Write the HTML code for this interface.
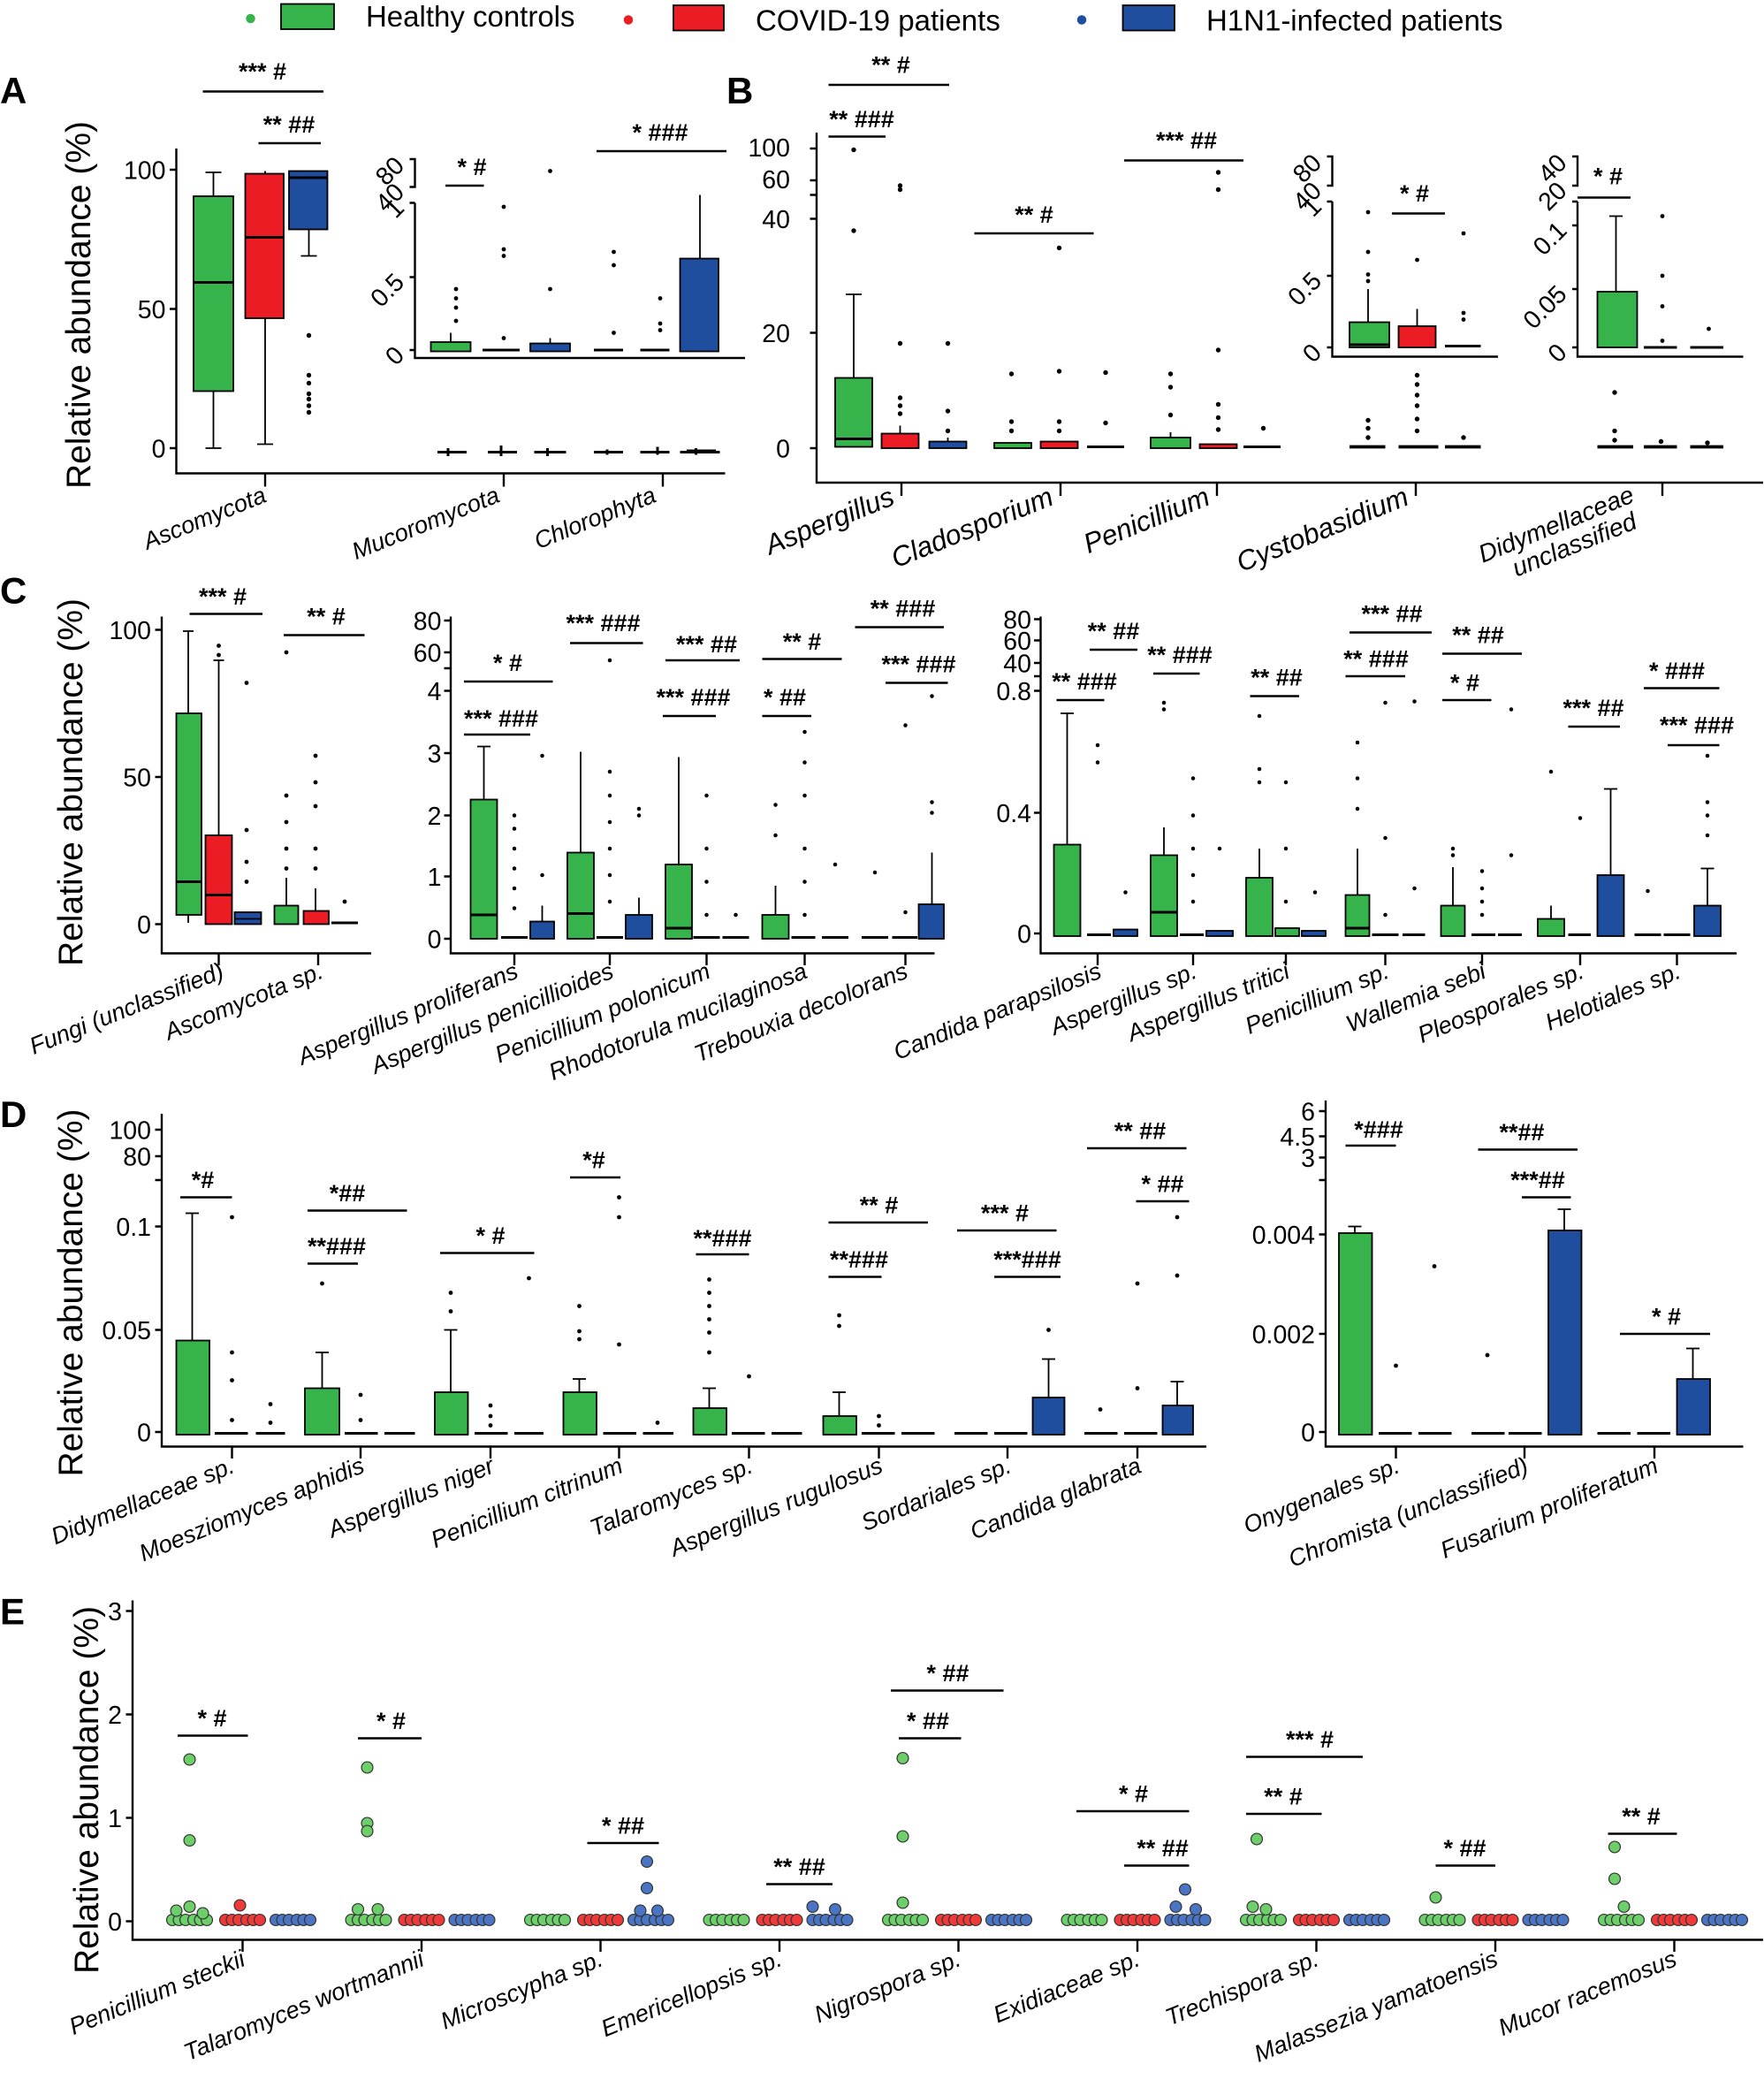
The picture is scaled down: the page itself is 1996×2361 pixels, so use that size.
<!DOCTYPE html>
<html><head><meta charset="utf-8"><style>
html,body{margin:0;padding:0;background:#fff}
svg{display:block}
text{font-family:"Liberation Sans",sans-serif;fill:#000}
.t{font-size:19px}
.s{font-size:18px;font-weight:bold}
.l{font-size:18px;font-style:italic}
.y{font-size:26px}
.P{font-size:28px;font-weight:bold}
.ax{stroke:#000;stroke-width:1.6;fill:none}
.br{stroke:#000;stroke-width:1.6}
.g{fill:#36b34a;stroke:#000;stroke-width:1.2}
.r{fill:#ec1c24;stroke:#000;stroke-width:1.2}
.b{fill:#1f4e9f;stroke:#000;stroke-width:1.2}
.w{stroke:#000;stroke-width:1.2}
.dg{fill:#6ccf6a;stroke:#333;stroke-width:.8}
.dr{fill:#f03a3a;stroke:#333;stroke-width:.8}
.db{fill:#4a74c4;stroke:#333;stroke-width:.8}
</style></head><body>
<svg width="1996" height="2361" viewBox="0 0 1330.67 1574" xmlns="http://www.w3.org/2000/svg">
<!-- legend -->
<circle cx="189" cy="14" r="3.5" fill="#36b34a"/>
<rect x="212" y="3" width="40" height="19" class="g"/>
<text x="276" y="20" style="font-size:22px">Healthy controls</text>
<circle cx="474" cy="15" r="3.5" fill="#ec1c24"/>
<rect x="508" y="4" width="38" height="19" class="r"/>
<text x="570" y="23" style="font-size:22px">COVID-19 patients</text>
<circle cx="816" cy="15" r="3.5" fill="#1f4e9f"/>
<rect x="847" y="4" width="39" height="19" class="b"/>
<text x="910" y="23" style="font-size:22px">H1N1-infected patients</text>

<!-- PANEL A -->
<text x="0" y="78" class="P">A</text>
<text class="y" transform="translate(68 230) rotate(-90)" text-anchor="middle">Relative abundance (%)</text>
<path class="ax" d="M133 112V357H547"/>
<path class="ax" d="M128 128H133M128 233H133M128 338H133"/>
<text x="125" y="135" class="t" text-anchor="end">100</text>
<text x="125" y="240" class="t" text-anchor="end">50</text>
<text x="125" y="345" class="t" text-anchor="end">0</text>
<path class="ax" d="M200 357v10M380 357v10M500 357v10"/>
<line class="w" x1="161" y1="130" x2="161" y2="338"/><line class="w" x1="155" y1="130" x2="167" y2="130"/><line class="w" x1="155" y1="338" x2="167" y2="338"/>
<rect x="146" y="148" width="30" height="147" class="g"/><line class="w" x1="146" y1="213" x2="176" y2="213" style="stroke-width:2"/>
<line class="w" x1="200" y1="129" x2="200" y2="335"/><line class="w" x1="194" y1="335" x2="206" y2="335"/>
<rect x="185" y="131" width="29" height="109" class="r"/><line class="w" x1="185" y1="179" x2="214" y2="179" style="stroke-width:2"/>
<line class="w" x1="233" y1="173" x2="233" y2="193"/><line class="w" x1="227" y1="193" x2="239" y2="193"/>
<rect x="218" y="129" width="29" height="44" class="b"/><line class="w" x1="218" y1="134" x2="247" y2="134" style="stroke-width:2"/>
<g fill="#000"><circle cx="233" cy="253" r="1.8"/><circle cx="233" cy="283" r="1.8"/><circle cx="233" cy="289" r="1.8"/><circle cx="233" cy="297" r="1.8"/><circle cx="233" cy="301" r="1.8"/><circle cx="233" cy="306" r="1.8"/><circle cx="233" cy="311" r="1.8"/></g>
<path class="w" d="M330 341H352M338 338v6M368 341H390M378 336v8M403 341H427M413 338v6M448 341H470M458 339v4M483 341H505M496 337v6M513 341H543M525 338v5M518 340H540" style="stroke-width:2"/>
<!-- inset A -->
<path class="ax" d="M313 153V270H562"/>
<path class="ax" d="M309 120H313V141H309M309 153H313M309 264H313M309 209H313"/>
<text class="t" text-anchor="end" transform="translate(306 269) rotate(-45)">0</text>
<text class="t" text-anchor="end" transform="translate(306 214) rotate(-45)">0.5</text>
<text class="t" text-anchor="end" transform="translate(306 158) rotate(-45)">1</text>
<text class="t" text-anchor="end" transform="translate(306 146) rotate(-45)">40</text>
<text class="t" text-anchor="end" transform="translate(306 126) rotate(-45)">80</text>
<line class="w" x1="340" y1="251" x2="340" y2="258"/><rect x="325" y="258" width="30" height="7" class="g"/>
<line class="w" x1="364" y1="264" x2="392" y2="264" style="stroke-width:2"/>
<line class="w" x1="415" y1="255" x2="415" y2="259"/><rect x="400" y="259" width="30" height="6" class="b"/>
<line class="w" x1="448" y1="264" x2="470" y2="264" style="stroke-width:2"/>
<line class="w" x1="483" y1="264" x2="505" y2="264" style="stroke-width:2"/>
<line class="w" x1="528" y1="147" x2="528" y2="195"/><rect x="513" y="195" width="29" height="70" class="b"/>
<g fill="#000"><circle cx="344" cy="218" r="1.6"/><circle cx="344" cy="225" r="1.6"/><circle cx="344" cy="232" r="1.6"/><circle cx="344" cy="242" r="1.6"/><circle cx="380" cy="156" r="1.6"/><circle cx="380" cy="188" r="1.6"/><circle cx="380" cy="193" r="1.6"/><circle cx="415" cy="129" r="1.6"/><circle cx="415" cy="218" r="1.6"/><circle cx="463" cy="190" r="1.6"/><circle cx="463" cy="200" r="1.6"/><circle cx="463" cy="251" r="1.6"/><circle cx="498" cy="225" r="1.6"/><circle cx="498" cy="244" r="1.6"/><circle cx="498" cy="249" r="1.6"/><circle cx="380" cy="255" r="1.6"/></g>
<text x="198" y="60" class="s" text-anchor="middle">*** #</text><line class="br" x1="153" y1="69" x2="244" y2="69"/>
<text x="218" y="100" class="s" text-anchor="middle">** ##</text><line class="br" x1="195" y1="108" x2="242" y2="108"/>
<text x="356" y="132" class="s" text-anchor="middle">* #</text><line class="br" x1="336" y1="140" x2="365" y2="140"/>
<text x="498" y="106" class="s" text-anchor="middle">* ###</text><line class="br" x1="450" y1="114" x2="548" y2="114"/>
<text class="l" text-anchor="end" transform="translate(202 378) rotate(-22)">Ascomycota</text>
<text class="l" text-anchor="end" transform="translate(378 378) rotate(-22)">Mucoromycota</text>
<text class="l" text-anchor="end" transform="translate(496 378) rotate(-22)">Chlorophyta</text>

<!-- PANEL B -->
<text x="548" y="78" class="P">B</text>
<path class="ax" d="M616 100V364H1330"/>
<path class="ax" d="M611 112H616M611 136H616M611 147H616M611 165H616M611 251H616M611 338H616"/>
<text x="596" y="118" class="t" text-anchor="end">100</text>
<text x="596" y="142" class="t" text-anchor="end">60</text>
<text x="596" y="172" class="t" text-anchor="end">40</text>
<text x="596" y="258" class="t" text-anchor="end">20</text>
<text x="596" y="345" class="t" text-anchor="end">0</text>
<path class="ax" d="M680 364v10M800 364v10M918 364v10M1068 364v10M1254 364v10"/>
<line class="w" x1="644" y1="222" x2="644" y2="285"/><line class="w" x1="638" y1="222" x2="650" y2="222"/>
<rect x="630" y="285" width="28" height="52" class="g"/><line class="w" x1="630" y1="331" x2="658" y2="331" style="stroke-width:2"/>
<line class="w" x1="679" y1="321" x2="679" y2="327"/><rect x="665" y="327" width="28" height="11" class="r"/>
<line class="w" x1="715" y1="330" x2="715" y2="333"/><rect x="701" y="333" width="28" height="5" class="b"/>
<rect x="750" y="334" width="28" height="4" class="g"/><rect x="785" y="333" width="28" height="5" class="r"/><line class="w" x1="820" y1="337" x2="848" y2="337" style="stroke-width:2"/>
<line class="w" x1="883" y1="326" x2="883" y2="330"/><rect x="868" y="330" width="30" height="8" class="g"/><rect x="905" y="335" width="28" height="3" class="r"/><line class="w" x1="938" y1="337" x2="966" y2="337" style="stroke-width:2"/>
<path class="w" d="M1018 337H1045M1055 337H1085M1090 337H1117M1205 337H1232M1240 337H1265M1275 337H1300" style="stroke-width:2.5"/>
<g fill="#000"><circle cx="644" cy="113" r="1.8"/><circle cx="644" cy="174" r="1.8"/><circle cx="679" cy="140" r="1.8"/><circle cx="679" cy="143" r="1.8"/><circle cx="679" cy="259" r="1.8"/><circle cx="679" cy="300" r="1.8"/><circle cx="679" cy="306" r="1.8"/><circle cx="679" cy="312" r="1.8"/><circle cx="715" cy="259" r="1.8"/><circle cx="715" cy="310" r="1.8"/><circle cx="715" cy="325" r="1.8"/><circle cx="763" cy="282" r="1.8"/><circle cx="763" cy="318" r="1.8"/><circle cx="763" cy="325" r="1.8"/><circle cx="799" cy="187" r="1.8"/><circle cx="799" cy="280" r="1.8"/><circle cx="799" cy="318" r="1.8"/><circle cx="799" cy="325" r="1.8"/><circle cx="834" cy="281" r="1.8"/><circle cx="834" cy="319" r="1.8"/><circle cx="883" cy="282" r="1.8"/><circle cx="883" cy="292" r="1.8"/><circle cx="883" cy="313" r="1.8"/><circle cx="919" cy="130" r="1.8"/><circle cx="919" cy="143" r="1.8"/><circle cx="919" cy="264" r="1.8"/><circle cx="919" cy="305" r="1.8"/><circle cx="919" cy="315" r="1.8"/><circle cx="919" cy="324" r="1.8"/><circle cx="953" cy="323" r="1.8"/><circle cx="1032" cy="317" r="1.8"/><circle cx="1032" cy="323" r="1.8"/><circle cx="1032" cy="330" r="1.8"/><circle cx="1069" cy="283" r="1.8"/><circle cx="1069" cy="290" r="1.8"/><circle cx="1069" cy="298" r="1.8"/><circle cx="1069" cy="306" r="1.8"/><circle cx="1069" cy="316" r="1.8"/><circle cx="1069" cy="325" r="1.8"/><circle cx="1104" cy="330" r="1.8"/><circle cx="1218" cy="296" r="1.8"/><circle cx="1218" cy="325" r="1.8"/><circle cx="1218" cy="332" r="1.8"/><circle cx="1253" cy="333" r="1.8"/><circle cx="1288" cy="334" r="1.8"/></g>
<!-- inset Cystobasidium -->
<path class="ax" d="M1005 152V269H1130"/>
<path class="ax" d="M1001 118H1005V140H1001M1001 152H1005M1001 262H1005M1001 208H1005"/>
<text class="t" text-anchor="end" transform="translate(998 267) rotate(-45)">0</text>
<text class="t" text-anchor="end" transform="translate(998 213) rotate(-45)">0.5</text>
<text class="t" text-anchor="end" transform="translate(998 157) rotate(-45)">1</text>
<text class="t" text-anchor="end" transform="translate(998 145) rotate(-45)">40</text>
<text class="t" text-anchor="end" transform="translate(998 124) rotate(-45)">80</text>
<line class="w" x1="1032" y1="218" x2="1032" y2="243"/><rect x="1018" y="243" width="30" height="19" class="g"/><line class="w" x1="1018" y1="260" x2="1048" y2="260" style="stroke-width:2"/>
<line class="w" x1="1069" y1="233" x2="1069" y2="246"/><rect x="1055" y="246" width="28" height="16" class="r"/>
<line class="w" x1="1090" y1="261" x2="1117" y2="261" style="stroke-width:2"/>
<g fill="#000"><circle cx="1032" cy="160" r="1.6"/><circle cx="1032" cy="190" r="1.6"/><circle cx="1032" cy="207" r="1.6"/><circle cx="1032" cy="212" r="1.6"/><circle cx="1069" cy="196" r="1.6"/><circle cx="1104" cy="176" r="1.6"/><circle cx="1104" cy="236" r="1.6"/><circle cx="1104" cy="241" r="1.6"/></g>
<!-- inset Didymellaceae -->
<path class="ax" d="M1190 152V269H1315"/>
<path class="ax" d="M1186 118H1190V140H1186M1186 152H1190M1186 262H1190M1186 218H1190M1186 170H1190"/>
<text class="t" text-anchor="end" transform="translate(1183 267) rotate(-45)">0</text>
<text class="t" text-anchor="end" transform="translate(1183 223) rotate(-45)">0.05</text>
<text class="t" text-anchor="end" transform="translate(1183 175) rotate(-45)">0.1</text>
<text class="t" text-anchor="end" transform="translate(1183 145) rotate(-45)">20</text>
<text class="t" text-anchor="end" transform="translate(1183 124) rotate(-45)">40</text>
<line class="w" x1="1219" y1="163" x2="1219" y2="220"/><line class="w" x1="1214" y1="163" x2="1224" y2="163"/><rect x="1205" y="220" width="30" height="42" class="g"/>
<line class="w" x1="1240" y1="262" x2="1265" y2="262" style="stroke-width:2"/><line class="w" x1="1275" y1="262" x2="1300" y2="262" style="stroke-width:2"/>
<g fill="#000"><circle cx="1254" cy="163" r="1.6"/><circle cx="1254" cy="208" r="1.6"/><circle cx="1254" cy="231" r="1.6"/><circle cx="1254" cy="257" r="1.6"/><circle cx="1289" cy="248" r="1.6"/></g>
<text x="672" y="55" class="s" text-anchor="middle">** #</text><line class="br" x1="625" y1="64" x2="716" y2="64"/>
<text x="650" y="96" class="s" text-anchor="middle">** ###</text><line class="br" x1="625" y1="103" x2="668" y2="103"/>
<text x="780" y="168" class="s" text-anchor="middle">** #</text><line class="br" x1="735" y1="176" x2="825" y2="176"/>
<text x="895" y="112" class="s" text-anchor="middle">*** ##</text><line class="br" x1="848" y1="121" x2="938" y2="121"/>
<text x="1067" y="152" class="s" text-anchor="middle">* #</text><line class="br" x1="1050" y1="161" x2="1090" y2="161"/>
<text x="1213" y="139" class="s" text-anchor="middle">* #</text><line class="br" x1="1190" y1="149" x2="1230" y2="149"/>
<text class="l" text-anchor="end" transform="translate(676 380) rotate(-22)" style="font-size:21px">Aspergillus</text>
<text class="l" text-anchor="end" transform="translate(796 380) rotate(-22)" style="font-size:21px">Cladosporium</text>
<text class="l" text-anchor="end" transform="translate(914 380) rotate(-22)" style="font-size:21px">Penicillium</text>
<text class="l" text-anchor="end" transform="translate(1064 380) rotate(-22)" style="font-size:21px">Cystobasidium</text>
<text class="l" text-anchor="end" transform="translate(1234 378) rotate(-22)" style="font-size:19px">Didymellaceae</text>
<text class="l" text-anchor="end" transform="translate(1236 398) rotate(-22)" style="font-size:19px">unclassified</text>

<!-- PANEL C -->
<text x="0" y="455" class="P">C</text>
<text class="y" transform="translate(62 590) rotate(-90)" text-anchor="middle">Relative abundance (%)</text>
<path class="ax" d="M122 465V719H280"/>
<path class="ax" d="M117 475H122M117 586H122M117 697H122"/>
<text x="114" y="482" class="t" text-anchor="end">100</text>
<text x="114" y="593" class="t" text-anchor="end">50</text>
<text x="114" y="704" class="t" text-anchor="end">0</text>
<path class="ax" d="M165 719v9M240 719v9"/>
<line class="w" x1="142" y1="476" x2="142" y2="696"/><line class="w" x1="138" y1="476" x2="146" y2="476"/>
<rect x="133" y="538" width="19" height="152" class="g"/><line class="w" x1="133" y1="665" x2="152" y2="665" style="stroke-width:2"/>
<line class="w" x1="165" y1="498" x2="165" y2="630"/><line class="w" x1="161" y1="498" x2="169" y2="498"/>
<rect x="155" y="630" width="20" height="67" class="r"/><line class="w" x1="155" y1="675" x2="175" y2="675" style="stroke-width:2"/>
<rect x="177" y="688" width="20" height="9" class="b"/><line class="w" x1="177" y1="693" x2="197" y2="693"/>
<line class="w" x1="216" y1="662" x2="216" y2="683"/><rect x="207" y="683" width="18" height="14" class="g"/>
<line class="w" x1="238" y1="670" x2="238" y2="687"/><rect x="229" y="687" width="19" height="10" class="r"/>
<line class="w" x1="250" y1="696" x2="270" y2="696" style="stroke-width:2"/>
<g fill="#000"><circle cx="165" cy="487" r="1.6"/><circle cx="165" cy="494" r="1.6"/><circle cx="186" cy="515" r="1.6"/><circle cx="186" cy="626" r="1.6"/><circle cx="186" cy="650" r="1.6"/><circle cx="186" cy="665" r="1.6"/><circle cx="216" cy="492" r="1.6"/><circle cx="216" cy="600" r="1.6"/><circle cx="216" cy="620" r="1.6"/><circle cx="216" cy="640" r="1.6"/><circle cx="216" cy="655" r="1.6"/><circle cx="238" cy="570" r="1.6"/><circle cx="238" cy="590" r="1.6"/><circle cx="238" cy="608" r="1.6"/><circle cx="238" cy="640" r="1.6"/><circle cx="238" cy="655" r="1.6"/><circle cx="260" cy="680" r="1.6"/></g>
<text x="168" y="456" class="s" text-anchor="middle">*** #</text><line class="br" x1="143" y1="463" x2="198" y2="463"/>
<text x="246" y="471" class="s" text-anchor="middle">** #</text><line class="br" x1="214" y1="479" x2="275" y2="479"/>
<path class="ax" d="M340 465V719H705"/>
<path class="ax" d="M335 468H340M335 492H340M335 504H340M335 521H340M335 568H340M335 615H340M335 661H340M335 708H340"/>
<text x="333" y="475" class="t" text-anchor="end">80</text>
<text x="333" y="499" class="t" text-anchor="end">60</text>
<text x="333" y="528" class="t" text-anchor="end">4</text>
<text x="333" y="575" class="t" text-anchor="end">3</text>
<text x="333" y="622" class="t" text-anchor="end">2</text>
<text x="333" y="668" class="t" text-anchor="end">1</text>
<text x="333" y="715" class="t" text-anchor="end">0</text>
<path class="ax" d="M388 719v9M460 719v9M533 719v9M607 719v9M683 719v9"/>
<line class="w" x1="365" y1="563" x2="365" y2="603"/><line class="w" x1="360" y1="563" x2="370" y2="563"/>
<rect x="355" y="603" width="20" height="105" class="g"/><line class="w" x1="355" y1="690" x2="375" y2="690" style="stroke-width:2"/>
<line class="w" x1="378" y1="707" x2="398" y2="707" style="stroke-width:2"/>
<line class="w" x1="409" y1="683" x2="409" y2="695"/><rect x="400" y="695" width="18" height="13" class="b"/>
<line class="w" x1="438" y1="567" x2="438" y2="643"/><rect x="428" y="643" width="20" height="65" class="g"/><line class="w" x1="428" y1="689" x2="448" y2="689" style="stroke-width:2"/>
<line class="w" x1="450" y1="707" x2="470" y2="707" style="stroke-width:2"/>
<line class="w" x1="482" y1="677" x2="482" y2="690"/><rect x="472" y="690" width="20" height="18" class="b"/>
<line class="w" x1="512" y1="571" x2="512" y2="652"/><rect x="502" y="652" width="20" height="56" class="g"/><line class="w" x1="502" y1="700" x2="522" y2="700" style="stroke-width:2"/>
<line class="w" x1="523" y1="707" x2="543" y2="707" style="stroke-width:2"/><line class="w" x1="545" y1="707" x2="565" y2="707" style="stroke-width:2"/>
<line class="w" x1="585" y1="668" x2="585" y2="690"/><rect x="575" y="690" width="20" height="18" class="g"/>
<line class="w" x1="597" y1="707" x2="615" y2="707" style="stroke-width:2"/><line class="w" x1="620" y1="707" x2="640" y2="707" style="stroke-width:2"/>
<line class="w" x1="650" y1="707" x2="670" y2="707" style="stroke-width:2"/><line class="w" x1="673" y1="707" x2="692" y2="707" style="stroke-width:2"/>
<line class="w" x1="703" y1="643" x2="703" y2="682"/><rect x="693" y="682" width="19" height="26" class="b"/>
<g fill="#000"><circle cx="388" cy="615" r="1.5"/><circle cx="388" cy="625" r="1.5"/><circle cx="388" cy="640" r="1.5"/><circle cx="388" cy="655" r="1.5"/><circle cx="388" cy="670" r="1.5"/><circle cx="388" cy="685" r="1.5"/><circle cx="409" cy="570" r="1.5"/><circle cx="409" cy="660" r="1.5"/><circle cx="460" cy="498" r="1.5"/><circle cx="460" cy="582" r="1.5"/><circle cx="460" cy="600" r="1.5"/><circle cx="460" cy="620" r="1.5"/><circle cx="460" cy="640" r="1.5"/><circle cx="460" cy="660" r="1.5"/><circle cx="460" cy="680" r="1.5"/><circle cx="482" cy="610" r="1.5"/><circle cx="482" cy="615" r="1.5"/><circle cx="533" cy="600" r="1.5"/><circle cx="533" cy="640" r="1.5"/><circle cx="533" cy="665" r="1.5"/><circle cx="533" cy="690" r="1.5"/><circle cx="555" cy="690" r="1.5"/><circle cx="585" cy="607" r="1.5"/><circle cx="585" cy="630" r="1.5"/><circle cx="607" cy="552" r="1.5"/><circle cx="607" cy="575" r="1.5"/><circle cx="607" cy="600" r="1.5"/><circle cx="607" cy="640" r="1.5"/><circle cx="607" cy="665" r="1.5"/><circle cx="607" cy="690" r="1.5"/><circle cx="630" cy="652" r="1.5"/><circle cx="660" cy="658" r="1.5"/><circle cx="683" cy="547" r="1.5"/><circle cx="683" cy="688" r="1.5"/><circle cx="703" cy="525" r="1.5"/><circle cx="703" cy="605" r="1.5"/><circle cx="703" cy="613" r="1.5"/></g>
<text x="383" y="506" class="s" text-anchor="middle">* #</text><line class="br" x1="350" y1="514" x2="417" y2="514"/>
<text x="378" y="548" class="s" text-anchor="middle">*** ###</text><line class="br" x1="350" y1="554" x2="400" y2="554"/>
<text x="455" y="476" class="s" text-anchor="middle">*** ###</text><line class="br" x1="430" y1="485" x2="485" y2="485"/>
<text x="533" y="492" class="s" text-anchor="middle">*** ##</text><line class="br" x1="502" y1="498" x2="558" y2="498"/>
<text x="523" y="532" class="s" text-anchor="middle">*** ###</text><line class="br" x1="500" y1="540" x2="540" y2="540"/>
<text x="605" y="490" class="s" text-anchor="middle">** #</text><line class="br" x1="575" y1="497" x2="635" y2="497"/>
<text x="592" y="532" class="s" text-anchor="middle">* ##</text><line class="br" x1="575" y1="540" x2="612" y2="540"/>
<text x="681" y="465" class="s" text-anchor="middle">** ###</text><line class="br" x1="645" y1="473" x2="712" y2="473"/>
<text x="693" y="507" class="s" text-anchor="middle">*** ###</text><line class="br" x1="668" y1="515" x2="715" y2="515"/>
<path class="ax" d="M785 465V719H1310"/>
<path class="ax" d="M780 467H785M780 483H785M780 500H785M780 510H785M780 521H785M780 613H785M780 704H785"/>
<text x="778" y="474" class="t" text-anchor="end">80</text>
<text x="778" y="490" class="t" text-anchor="end">60</text>
<text x="778" y="507" class="t" text-anchor="end">40</text>
<text x="778" y="528" class="t" text-anchor="end">0.8</text>
<text x="778" y="620" class="t" text-anchor="end">0.4</text>
<text x="778" y="711" class="t" text-anchor="end">0</text>
<path class="ax" d="M828 719v9M900 719v9M970 719v9M1045 719v9M1118 719v9M1192 719v9M1265 719v9"/>
<line class="w" x1="805" y1="538" x2="805" y2="637"/><line class="w" x1="800" y1="538" x2="810" y2="538"/><rect x="795" y="637" width="20" height="69" class="g"/>
<line class="w" x1="820" y1="705" x2="838" y2="705" style="stroke-width:2"/><rect x="840" y="701" width="18" height="5" class="b"/>
<line class="w" x1="878" y1="624" x2="878" y2="645"/><rect x="868" y="645" width="20" height="61" class="g"/><line class="w" x1="868" y1="688" x2="888" y2="688" style="stroke-width:2"/>
<line class="w" x1="890" y1="705" x2="908" y2="705" style="stroke-width:2"/><rect x="910" y="702" width="20" height="4" class="b"/>
<line class="w" x1="950" y1="640" x2="950" y2="662"/><rect x="940" y="662" width="20" height="44" class="g"/>
<rect x="962" y="700" width="18" height="6" class="g"/><rect x="982" y="702" width="18" height="4" class="b"/>
<line class="w" x1="1024" y1="640" x2="1024" y2="675"/><rect x="1015" y="675" width="18" height="31" class="g"/><line class="w" x1="1015" y1="700" x2="1033" y2="700" style="stroke-width:2"/>
<line class="w" x1="1035" y1="705" x2="1055" y2="705" style="stroke-width:2"/><line class="w" x1="1058" y1="705" x2="1075" y2="705" style="stroke-width:2"/>
<line class="w" x1="1096" y1="654" x2="1096" y2="683"/><rect x="1087" y="683" width="18" height="23" class="g"/>
<line class="w" x1="1110" y1="705" x2="1128" y2="705" style="stroke-width:2"/><line class="w" x1="1130" y1="705" x2="1148" y2="705" style="stroke-width:2"/>
<line class="w" x1="1170" y1="683" x2="1170" y2="693"/><rect x="1160" y="693" width="20" height="13" class="g"/>
<line class="w" x1="1183" y1="705" x2="1200" y2="705" style="stroke-width:2"/>
<line class="w" x1="1215" y1="595" x2="1215" y2="660"/><line class="w" x1="1210" y1="595" x2="1220" y2="595"/><rect x="1205" y="660" width="20" height="46" class="b"/>
<line class="w" x1="1233" y1="705" x2="1253" y2="705" style="stroke-width:2"/><line class="w" x1="1255" y1="705" x2="1275" y2="705" style="stroke-width:2"/>
<line class="w" x1="1288" y1="655" x2="1288" y2="683"/><line class="w" x1="1283" y1="655" x2="1293" y2="655"/><rect x="1278" y="683" width="20" height="23" class="b"/>
<g fill="#000"><circle cx="828" cy="562" r="1.5"/><circle cx="828" cy="575" r="1.5"/><circle cx="849" cy="673" r="1.5"/><circle cx="878" cy="530" r="1.5"/><circle cx="878" cy="535" r="1.5"/><circle cx="900" cy="587" r="1.5"/><circle cx="900" cy="615" r="1.5"/><circle cx="900" cy="640" r="1.5"/><circle cx="900" cy="660" r="1.5"/><circle cx="900" cy="680" r="1.5"/><circle cx="920" cy="640" r="1.5"/><circle cx="950" cy="540" r="1.5"/><circle cx="950" cy="580" r="1.5"/><circle cx="950" cy="590" r="1.5"/><circle cx="970" cy="590" r="1.5"/><circle cx="970" cy="640" r="1.5"/><circle cx="970" cy="680" r="1.5"/><circle cx="992" cy="673" r="1.5"/><circle cx="1024" cy="560" r="1.5"/><circle cx="1024" cy="587" r="1.5"/><circle cx="1024" cy="610" r="1.5"/><circle cx="1045" cy="530" r="1.5"/><circle cx="1045" cy="632" r="1.5"/><circle cx="1045" cy="690" r="1.5"/><circle cx="1067" cy="529" r="1.5"/><circle cx="1067" cy="670" r="1.5"/><circle cx="1096" cy="640" r="1.5"/><circle cx="1096" cy="645" r="1.5"/><circle cx="1118" cy="657" r="1.5"/><circle cx="1118" cy="670" r="1.5"/><circle cx="1118" cy="680" r="1.5"/><circle cx="1118" cy="690" r="1.5"/><circle cx="1140" cy="535" r="1.5"/><circle cx="1140" cy="645" r="1.5"/><circle cx="1170" cy="582" r="1.5"/><circle cx="1192" cy="617" r="1.5"/><circle cx="1243" cy="672" r="1.5"/><circle cx="1288" cy="570" r="1.5"/><circle cx="1288" cy="605" r="1.5"/><circle cx="1288" cy="615" r="1.5"/><circle cx="1288" cy="630" r="1.5"/></g>
<text x="818" y="520" class="s" text-anchor="middle">** ###</text><line class="br" x1="797" y1="528" x2="833" y2="528"/>
<text x="840" y="482" class="s" text-anchor="middle">** ##</text><line class="br" x1="822" y1="490" x2="858" y2="490"/>
<text x="890" y="500" class="s" text-anchor="middle">** ###</text><line class="br" x1="870" y1="508" x2="905" y2="508"/>
<text x="963" y="517" class="s" text-anchor="middle">** ##</text><line class="br" x1="943" y1="525" x2="980" y2="525"/>
<text x="1050" y="469" class="s" text-anchor="middle">*** ##</text><line class="br" x1="1018" y1="477" x2="1080" y2="477"/>
<text x="1038" y="503" class="s" text-anchor="middle">** ###</text><line class="br" x1="1015" y1="510" x2="1060" y2="510"/>
<text x="1115" y="485" class="s" text-anchor="middle">** ##</text><line class="br" x1="1088" y1="493" x2="1148" y2="493"/>
<text x="1105" y="521" class="s" text-anchor="middle">* #</text><line class="br" x1="1088" y1="528" x2="1125" y2="528"/>
<text x="1202" y="540" class="s" text-anchor="middle">*** ##</text><line class="br" x1="1183" y1="548" x2="1222" y2="548"/>
<text x="1265" y="512" class="s" text-anchor="middle">* ###</text><line class="br" x1="1240" y1="519" x2="1297" y2="519"/>
<text x="1280" y="553" class="s" text-anchor="middle">*** ###</text><line class="br" x1="1258" y1="562" x2="1297" y2="562"/>
<text class="l" text-anchor="end" transform="translate(170 737) rotate(-22)">Fungi (unclassified)</text>
<text class="l" text-anchor="end" transform="translate(245 737) rotate(-22)">Ascomycota sp.</text>
<text class="l" text-anchor="end" transform="translate(392 737) rotate(-22)">Aspergillus proliferans</text>
<text class="l" text-anchor="end" transform="translate(464 737) rotate(-22)">Aspergillus penicillioides</text>
<text class="l" text-anchor="end" transform="translate(537 737) rotate(-22)">Penicillium polonicum</text>
<text class="l" text-anchor="end" transform="translate(610 737) rotate(-22)">Rhodotorula mucilaginosa</text>
<text class="l" text-anchor="end" transform="translate(686 737) rotate(-22)">Trebouxia decolorans</text>
<text class="l" text-anchor="end" transform="translate(832 737) rotate(-22)">Candida parapsilosis</text>
<text class="l" text-anchor="end" transform="translate(904 737) rotate(-22)">Aspergillus sp.</text>
<text class="l" text-anchor="end" transform="translate(974 737) rotate(-22)">Aspergillus tritici</text>
<text class="l" text-anchor="end" transform="translate(1049 737) rotate(-22)">Penicillium sp.</text>
<text class="l" text-anchor="end" transform="translate(1122 737) rotate(-22)">Wallemia sebi</text>
<text class="l" text-anchor="end" transform="translate(1196 737) rotate(-22)">Pleosporales sp.</text>
<text class="l" text-anchor="end" transform="translate(1269 737) rotate(-22)">Helotiales sp.</text>

<!-- PANEL D -->
<text x="0" y="850" class="P">D</text>
<text class="y" transform="translate(62 975) rotate(-90)" text-anchor="middle">Relative abundance (%)</text>
<path class="ax" d="M122 840V1091H910"/>
<path class="ax" d="M117 852H122M117 872H122M117 890H122M117 925H122M117 1003H122M117 1080H122"/>
<text x="114" y="859" class="t" text-anchor="end">100</text>
<text x="114" y="879" class="t" text-anchor="end">80</text>
<text x="114" y="932" class="t" text-anchor="end">0.1</text>
<text x="114" y="1010" class="t" text-anchor="end">0.05</text>
<text x="114" y="1087" class="t" text-anchor="end">0</text>
<path class="ax" d="M175 1091v9M272 1091v9M370 1091v9M467 1091v9M565 1091v9M663 1091v9M760 1091v9M858 1091v9"/>
<rect x="133" y="1011" width="25" height="71" class="g"/><line class="w" x1="145" y1="915" x2="145" y2="1011"/><line class="w" x1="140" y1="915" x2="150" y2="915"/>
<rect x="230" y="1047" width="26" height="35" class="g"/><line class="w" x1="243" y1="1020" x2="243" y2="1047"/><line class="w" x1="238" y1="1020" x2="248" y2="1020"/>
<rect x="328" y="1050" width="25" height="32" class="g"/><line class="w" x1="340" y1="1003" x2="340" y2="1050"/><line class="w" x1="335" y1="1003" x2="345" y2="1003"/>
<rect x="425" y="1050" width="25" height="32" class="g"/><line class="w" x1="437" y1="1040" x2="437" y2="1050"/><line class="w" x1="432" y1="1040" x2="442" y2="1040"/>
<rect x="523" y="1062" width="25" height="20" class="g"/><line class="w" x1="535" y1="1047" x2="535" y2="1062"/><line class="w" x1="530" y1="1047" x2="540" y2="1047"/>
<rect x="621" y="1068" width="25" height="14" class="g"/><line class="w" x1="633" y1="1050" x2="633" y2="1068"/><line class="w" x1="628" y1="1050" x2="638" y2="1050"/>
<rect x="779" y="1054" width="24" height="28" class="b"/><line class="w" x1="791" y1="1025" x2="791" y2="1054"/><line class="w" x1="786" y1="1025" x2="796" y2="1025"/>
<rect x="877" y="1060" width="23" height="22" class="b"/><line class="w" x1="888" y1="1042" x2="888" y2="1060"/><line class="w" x1="883" y1="1042" x2="893" y2="1042"/>
<path class="w" d="M162 1081H187M193 1081H215M260 1081H285M290 1081H313M358 1081H383M388 1081H410M455 1081H480M485 1081H508M552 1081H577M582 1081H605M650 1081H675M680 1081H705M720 1081H745M750 1081H775M818 1081H843M848 1081H873" style="stroke-width:2"/>
<g fill="#000"><circle cx="175" cy="918" r="1.6"/><circle cx="175" cy="1020" r="1.6"/><circle cx="175" cy="1041" r="1.6"/><circle cx="175" cy="1071" r="1.6"/><circle cx="204" cy="1059" r="1.6"/><circle cx="204" cy="1073" r="1.6"/><circle cx="243" cy="968" r="1.6"/><circle cx="272" cy="1052" r="1.6"/><circle cx="272" cy="1071" r="1.6"/><circle cx="340" cy="975" r="1.6"/><circle cx="340" cy="989" r="1.6"/><circle cx="370" cy="1060" r="1.6"/><circle cx="370" cy="1068" r="1.6"/><circle cx="370" cy="1075" r="1.6"/><circle cx="399" cy="964" r="1.6"/><circle cx="437" cy="985" r="1.6"/><circle cx="437" cy="1004" r="1.6"/><circle cx="437" cy="1010" r="1.6"/><circle cx="467" cy="903" r="1.6"/><circle cx="467" cy="918" r="1.6"/><circle cx="467" cy="1014" r="1.6"/><circle cx="496" cy="1073" r="1.6"/><circle cx="535" cy="965" r="1.6"/><circle cx="535" cy="975" r="1.6"/><circle cx="535" cy="985" r="1.6"/><circle cx="535" cy="995" r="1.6"/><circle cx="535" cy="1005" r="1.6"/><circle cx="535" cy="1020" r="1.6"/><circle cx="565" cy="1038" r="1.6"/><circle cx="633" cy="992" r="1.6"/><circle cx="633" cy="1000" r="1.6"/><circle cx="663" cy="1068" r="1.6"/><circle cx="663" cy="1075" r="1.6"/><circle cx="791" cy="1003" r="1.6"/><circle cx="830" cy="1063" r="1.6"/><circle cx="858" cy="968" r="1.6"/><circle cx="858" cy="1047" r="1.6"/><circle cx="888" cy="918" r="1.6"/><circle cx="888" cy="962" r="1.6"/></g>
<text x="153" y="896" class="s" text-anchor="middle">*#</text><line class="br" x1="136" y1="903" x2="175" y2="903"/>
<text x="262" y="906" class="s" text-anchor="middle">*##</text><line class="br" x1="232" y1="913" x2="307" y2="913"/>
<text x="254" y="946" class="s" text-anchor="middle">**###</text><line class="br" x1="232" y1="953" x2="270" y2="953"/>
<text x="370" y="938" class="s" text-anchor="middle">* #</text><line class="br" x1="332" y1="945" x2="403" y2="945"/>
<text x="448" y="881" class="s" text-anchor="middle">*#</text><line class="br" x1="430" y1="888" x2="468" y2="888"/>
<text x="545" y="940" class="s" text-anchor="middle">**###</text><line class="br" x1="525" y1="946" x2="565" y2="946"/>
<text x="663" y="915" class="s" text-anchor="middle">** #</text><line class="br" x1="625" y1="922" x2="700" y2="922"/>
<text x="648" y="956" class="s" text-anchor="middle">**###</text><line class="br" x1="625" y1="963" x2="665" y2="963"/>
<text x="758" y="921" class="s" text-anchor="middle">*** #</text><line class="br" x1="722" y1="928" x2="797" y2="928"/>
<text x="775" y="956" class="s" text-anchor="middle">***###</text><line class="br" x1="750" y1="963" x2="800" y2="963"/>
<text x="860" y="859" class="s" text-anchor="middle">** ##</text><line class="br" x1="820" y1="866" x2="895" y2="866"/>
<text x="877" y="899" class="s" text-anchor="middle">* ##</text><line class="br" x1="857" y1="906" x2="897" y2="906"/>
<path class="ax" d="M1000 830V1091H1315"/>
<path class="ax" d="M995 838H1000M995 857H1000M995 873H1000M995 890H1000M995 931H1000M995 1006H1000M995 1080H1000"/>
<text x="992" y="845" class="t" text-anchor="end">6</text>
<text x="992" y="864" class="t" text-anchor="end">4.5</text>
<text x="992" y="880" class="t" text-anchor="end">3</text>
<text x="992" y="938" class="t" text-anchor="end">0.004</text>
<text x="992" y="1013" class="t" text-anchor="end">0.002</text>
<text x="992" y="1087" class="t" text-anchor="end">0</text>
<path class="ax" d="M1053 1091v9M1150 1091v9M1248 1091v9"/>
<rect x="1010" y="930" width="25" height="152" class="g"/><line class="w" x1="1022" y1="925" x2="1022" y2="930"/><line class="w" x1="1017" y1="925" x2="1027" y2="925"/>
<rect x="1168" y="928" width="25" height="154" class="b"/><line class="w" x1="1180" y1="912" x2="1180" y2="928"/><line class="w" x1="1175" y1="912" x2="1185" y2="912"/>
<rect x="1265" y="1040" width="25" height="42" class="b"/><line class="w" x1="1277" y1="1017" x2="1277" y2="1040"/><line class="w" x1="1272" y1="1017" x2="1282" y2="1017"/>
<path class="w" d="M1040 1081H1065M1070 1081H1095M1110 1081H1135M1138 1081H1163M1205 1081H1230M1235 1081H1260" style="stroke-width:2"/>
<g fill="#000"><circle cx="1053" cy="1030" r="1.6"/><circle cx="1082" cy="955" r="1.6"/><circle cx="1122" cy="1022" r="1.6"/></g>
<text x="1040" y="858" class="s" text-anchor="middle">*###</text><line class="br" x1="1015" y1="864" x2="1053" y2="864"/>
<text x="1148" y="860" class="s" text-anchor="middle">**##</text><line class="br" x1="1115" y1="867" x2="1190" y2="867"/>
<text x="1160" y="896" class="s" text-anchor="middle">***##</text><line class="br" x1="1148" y1="903" x2="1185" y2="903"/>
<text x="1257" y="999" class="s" text-anchor="middle">* #</text><line class="br" x1="1222" y1="1006" x2="1290" y2="1006"/>
<text class="l" text-anchor="end" transform="translate(178 1110) rotate(-22)">Didymellaceae sp.</text>
<text class="l" text-anchor="end" transform="translate(276 1110) rotate(-22)">Moesziomyces aphidis</text>
<text class="l" text-anchor="end" transform="translate(374 1110) rotate(-22)">Aspergillus niger</text>
<text class="l" text-anchor="end" transform="translate(471 1110) rotate(-22)">Penicillium citrinum</text>
<text class="l" text-anchor="end" transform="translate(569 1110) rotate(-22)">Talaromyces sp.</text>
<text class="l" text-anchor="end" transform="translate(667 1110) rotate(-22)">Aspergillus rugulosus</text>
<text class="l" text-anchor="end" transform="translate(764 1110) rotate(-22)">Sordariales sp.</text>
<text class="l" text-anchor="end" transform="translate(862 1110) rotate(-22)">Candida glabrata</text>
<text class="l" text-anchor="end" transform="translate(1057 1110) rotate(-22)">Onygenales sp.</text>
<text class="l" text-anchor="end" transform="translate(1154 1110) rotate(-22)">Chromista (unclassified)</text>
<text class="l" text-anchor="end" transform="translate(1252 1110) rotate(-22)">Fusarium proliferatum</text>

<!-- PANEL E -->
<text x="0" y="1225" class="P">E</text>
<text class="y" transform="translate(74 1350) rotate(-90)" text-anchor="middle">Relative abundance (%)</text>
<path class="ax" d="M100 1207V1463H1330"/>
<path class="ax" d="M95 1215H100M95 1293H100M95 1371H100M95 1449H100"/>
<text x="92" y="1222" class="t" text-anchor="end">3</text>
<text x="92" y="1300" class="t" text-anchor="end">2</text>
<text x="92" y="1378" class="t" text-anchor="end">1</text>
<text x="92" y="1456" class="t" text-anchor="end">0</text>
<path class="ax" d="M183 1463v9M318 1463v9M453 1463v9M588 1463v9M723 1463v9M858 1463v9M993 1463v9M1128 1463v9M1263 1463v9"/>
<defs>
<g id="cg"><circle cx="-13" cy="0" r="4.3" class="dg"/><circle cx="-8" cy="0" r="4.3" class="dg"/><circle cx="-3" cy="0" r="4.3" class="dg"/><circle cx="3" cy="0" r="4.3" class="dg"/><circle cx="8" cy="0" r="4.3" class="dg"/><circle cx="13" cy="0" r="4.3" class="dg"/></g>
<g id="cr"><circle cx="-13" cy="0" r="4.3" class="dr"/><circle cx="-8" cy="0" r="4.3" class="dr"/><circle cx="-3" cy="0" r="4.3" class="dr"/><circle cx="3" cy="0" r="4.3" class="dr"/><circle cx="8" cy="0" r="4.3" class="dr"/><circle cx="13" cy="0" r="4.3" class="dr"/></g>
<g id="cb"><circle cx="-13" cy="0" r="4.3" class="db"/><circle cx="-8" cy="0" r="4.3" class="db"/><circle cx="-3" cy="0" r="4.3" class="db"/><circle cx="3" cy="0" r="4.3" class="db"/><circle cx="8" cy="0" r="4.3" class="db"/><circle cx="13" cy="0" r="4.3" class="db"/></g>
</defs>
<g>
<use href="#cg" x="143" y="1448"/><use href="#cr" x="183" y="1448"/><use href="#cb" x="221" y="1448"/>
<use href="#cg" x="278" y="1448"/><use href="#cr" x="318" y="1448"/><use href="#cb" x="356" y="1448"/>
<use href="#cg" x="413" y="1448"/><use href="#cr" x="453" y="1448"/><use href="#cb" x="491" y="1448"/>
<use href="#cg" x="548" y="1448"/><use href="#cr" x="588" y="1448"/><use href="#cb" x="626" y="1448"/>
<use href="#cg" x="683" y="1448"/><use href="#cr" x="723" y="1448"/><use href="#cb" x="761" y="1448"/>
<use href="#cg" x="818" y="1448"/><use href="#cr" x="858" y="1448"/><use href="#cb" x="896" y="1448"/>
<use href="#cg" x="953" y="1448"/><use href="#cr" x="993" y="1448"/><use href="#cb" x="1031" y="1448"/>
<use href="#cg" x="1088" y="1448"/><use href="#cr" x="1128" y="1448"/><use href="#cb" x="1166" y="1448"/>
<use href="#cg" x="1223" y="1448"/><use href="#cr" x="1263" y="1448"/><use href="#cb" x="1301" y="1448"/>
</g>
<g>
<circle cx="143" cy="1327" r="4.3" class="dg"/><circle cx="143" cy="1388" r="4.3" class="dg"/><circle cx="143" cy="1438" r="4.3" class="dg"/><circle cx="133" cy="1441" r="4.3" class="dg"/><circle cx="153" cy="1443" r="4.3" class="dg"/>
<circle cx="181" cy="1437" r="4.3" class="dr"/>
<circle cx="277" cy="1333" r="4.3" class="dg"/><circle cx="277" cy="1375" r="4.3" class="dg"/><circle cx="277" cy="1381" r="4.3" class="dg"/><circle cx="270" cy="1440" r="4.3" class="dg"/><circle cx="285" cy="1440" r="4.3" class="dg"/>
<circle cx="488" cy="1404" r="4.3" class="db"/><circle cx="488" cy="1424" r="4.3" class="db"/><circle cx="483" cy="1441" r="4.3" class="db"/><circle cx="496" cy="1441" r="4.3" class="db"/>
<circle cx="613" cy="1438" r="4.3" class="db"/><circle cx="630" cy="1440" r="4.3" class="db"/>
<circle cx="681" cy="1326" r="4.3" class="dg"/><circle cx="681" cy="1385" r="4.3" class="dg"/><circle cx="681" cy="1435" r="4.3" class="dg"/>
<circle cx="894" cy="1425" r="4.3" class="db"/><circle cx="887" cy="1438" r="4.3" class="db"/><circle cx="902" cy="1440" r="4.3" class="db"/>
<circle cx="948" cy="1387" r="4.3" class="dg"/><circle cx="945" cy="1438" r="4.3" class="dg"/><circle cx="955" cy="1440" r="4.3" class="dg"/>
<circle cx="1083" cy="1431" r="4.3" class="dg"/>
<circle cx="1218" cy="1393" r="4.3" class="dg"/><circle cx="1218" cy="1417" r="4.3" class="dg"/><circle cx="1225" cy="1438" r="4.3" class="dg"/>
</g>
<text x="160" y="1302" class="s" text-anchor="middle">* #</text><line class="br" x1="134" y1="1309" x2="187" y2="1309"/>
<text x="295" y="1304" class="s" text-anchor="middle">* #</text><line class="br" x1="270" y1="1311" x2="318" y2="1311"/>
<text x="470" y="1383" class="s" text-anchor="middle">* ##</text><line class="br" x1="443" y1="1390" x2="497" y2="1390"/>
<text x="603" y="1414" class="s" text-anchor="middle">** ##</text><line class="br" x1="578" y1="1421" x2="628" y2="1421"/>
<text x="715" y="1268" class="s" text-anchor="middle">* ##</text><line class="br" x1="672" y1="1275" x2="757" y2="1275"/>
<text x="700" y="1304" class="s" text-anchor="middle">* ##</text><line class="br" x1="678" y1="1311" x2="725" y2="1311"/>
<text x="855" y="1359" class="s" text-anchor="middle">* #</text><line class="br" x1="812" y1="1366" x2="897" y2="1366"/>
<text x="877" y="1400" class="s" text-anchor="middle">** ##</text><line class="br" x1="848" y1="1407" x2="897" y2="1407"/>
<text x="988" y="1318" class="s" text-anchor="middle">*** #</text><line class="br" x1="940" y1="1325" x2="1028" y2="1325"/>
<text x="968" y="1361" class="s" text-anchor="middle">** #</text><line class="br" x1="940" y1="1368" x2="997" y2="1368"/>
<text x="1105" y="1400" class="s" text-anchor="middle">* ##</text><line class="br" x1="1083" y1="1407" x2="1128" y2="1407"/>
<text x="1238" y="1376" class="s" text-anchor="middle">** #</text><line class="br" x1="1213" y1="1383" x2="1265" y2="1383"/>
<text class="l" text-anchor="end" transform="translate(186 1482) rotate(-22)">Penicillium steckii</text>
<text class="l" text-anchor="end" transform="translate(321 1482) rotate(-22)">Talaromyces wortmannii</text>
<text class="l" text-anchor="end" transform="translate(456 1482) rotate(-22)">Microscypha sp.</text>
<text class="l" text-anchor="end" transform="translate(591 1482) rotate(-22)">Emericellopsis sp.</text>
<text class="l" text-anchor="end" transform="translate(726 1482) rotate(-22)">Nigrospora sp.</text>
<text class="l" text-anchor="end" transform="translate(861 1482) rotate(-22)">Exidiaceae sp.</text>
<text class="l" text-anchor="end" transform="translate(996 1482) rotate(-22)">Trechispora sp.</text>
<text class="l" text-anchor="end" transform="translate(1131 1482) rotate(-22)">Malassezia yamatoensis</text>
<text class="l" text-anchor="end" transform="translate(1266 1482) rotate(-22)">Mucor racemosus</text>
</svg>
</body></html>
